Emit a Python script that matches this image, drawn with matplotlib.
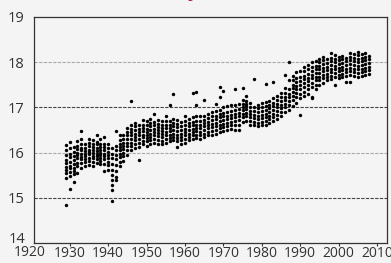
import matplotlib
matplotlib.use("Agg")
from matplotlib import pyplot as plt

# readings per year, grouped by decade
temps_1920s = [
	[14.84, 15.43, 15.55, 15.62, 15.68, 15.78, 15.83, 15.95, 16.05, 16.17],  # 1929
]
temps_1930s = [
	[15.19, 15.48, 15.56, 15.65, 15.7, 15.8, 15.9, 15.98, 16.1, 16.23],
	[15.36, 15.52, 15.6, 15.66, 15.75, 15.83, 15.92, 16.02, 16.12],
	[15.55, 15.7, 15.78, 15.88, 15.95, 16.0, 16.08, 16.15, 16.25],
	[15.65, 15.76, 15.85, 15.9, 15.98, 16.05, 16.1, 16.2, 16.3, 16.48],
	[15.7, 15.8, 15.86, 15.92, 15.97, 16.04, 16.1, 16.18],
	[15.72, 15.82, 15.88, 15.96, 16.02, 16.06, 16.14, 16.22, 16.3],
	[15.7, 15.8, 15.88, 15.93, 16.0, 16.06, 16.12, 16.2, 16.28],
	[15.78, 15.85, 15.92, 15.98, 16.04, 16.1, 16.18, 16.24, 16.39],
	[15.75, 15.82, 15.88, 15.95, 16.0, 16.06, 16.12, 16.2, 16.3],
	[15.6, 15.75, 15.85, 15.92, 15.98, 16.05, 16.12, 16.2, 16.35],
]
temps_1940s = [
	[15.62, 15.72, 15.8, 15.88, 15.95, 16.02, 16.1, 16.18],
	[14.93, 15.17, 15.28, 15.4, 15.5, 15.62, 15.75, 15.88, 15.98, 16.1],
	[15.4, 15.47, 15.6, 15.72, 15.85, 15.95, 16.05, 16.15, 16.48],
	[15.7, 15.8, 15.9, 15.98, 16.05, 16.12, 16.2, 16.28, 16.39],
	[15.82, 15.92, 16.0, 16.08, 16.15, 16.22, 16.3, 16.38],
	[15.95, 16.05, 16.15, 16.22, 16.3, 16.38, 16.45, 16.55],
	[16.05, 16.15, 16.22, 16.3, 16.38, 16.45, 16.52, 16.6, 17.14],
	[16.1, 16.2, 16.28, 16.35, 16.42, 16.5, 16.58, 16.65],
	[15.84, 16.12, 16.22, 16.3, 16.38, 16.45, 16.52, 16.62],
	[16.18, 16.26, 16.34, 16.4, 16.48, 16.55, 16.62, 16.72],
]
temps_1950s = [
	[16.15, 16.25, 16.32, 16.4, 16.46, 16.52, 16.6, 16.7],
	[16.2, 16.28, 16.35, 16.42, 16.5, 16.58, 16.66, 16.75],
	[16.22, 16.3, 16.38, 16.45, 16.52, 16.6, 16.68, 16.85],
	[16.2, 16.28, 16.36, 16.44, 16.5, 16.56, 16.64, 16.72],
	[16.18, 16.26, 16.34, 16.42, 16.48, 16.55, 16.62, 16.7],
	[16.22, 16.3, 16.38, 16.46, 16.54, 16.62, 16.7, 16.8],
	[16.25, 16.32, 16.4, 16.48, 16.55, 16.62, 16.7, 17.05],
	[16.28, 16.35, 16.42, 16.5, 16.58, 16.66, 16.75, 17.3],
	[16.12, 16.25, 16.32, 16.4, 16.48, 16.56, 16.64, 16.72],
	[16.2, 16.28, 16.35, 16.42, 16.5, 16.58, 16.68],
]
temps_1960s = [
	[16.22, 16.3, 16.38, 16.45, 16.52, 16.6, 16.7, 16.8],
	[16.28, 16.35, 16.42, 16.5, 16.58, 16.66, 16.75],
	[16.3, 16.38, 16.45, 16.52, 16.6, 16.68, 16.78, 17.32],
	[16.32, 16.4, 16.48, 16.55, 16.62, 16.7, 16.8, 17.05, 17.34],
	[16.3, 16.38, 16.46, 16.54, 16.62, 16.7, 16.8],
	[16.35, 16.42, 16.5, 16.58, 16.65, 16.72, 16.82, 17.16],
	[16.38, 16.46, 16.54, 16.6, 16.68, 16.76, 16.85],
	[16.4, 16.48, 16.56, 16.64, 16.72, 16.8, 16.9],
	[16.42, 16.5, 16.58, 16.66, 16.74, 16.82, 16.92, 17.08],
	[16.45, 16.55, 16.62, 16.7, 16.78, 16.86, 16.95, 17.22, 17.46],
]
temps_1970s = [
	[16.48, 16.56, 16.64, 16.72, 16.8, 16.88, 17.0, 17.37],
	[16.5, 16.58, 16.66, 16.74, 16.82, 16.9, 17.02],
	[16.52, 16.6, 16.68, 16.76, 16.84, 16.92, 17.05],
	[16.5, 16.6, 16.7, 16.78, 16.86, 16.95, 17.05, 17.4],
	[16.5, 16.62, 16.72, 16.8, 16.88, 16.96, 17.08],
	[16.68, 16.78, 16.86, 16.94, 17.0, 17.08, 17.16, 17.44],
	[16.7, 16.8, 16.88, 16.96, 17.02, 17.08, 17.15, 17.25],
	[16.61, 16.7, 16.78, 16.85, 16.92, 17.0, 17.1],
	[16.6, 16.68, 16.76, 16.84, 16.92, 17.0, 17.62],
	[16.58, 16.66, 16.74, 16.82, 16.9, 16.98, 17.05],
]
temps_1980s = [
	[16.6, 16.68, 16.76, 16.84, 16.92, 17.0, 17.1],
	[16.61, 16.7, 16.78, 16.86, 16.94, 17.02, 17.12, 17.51],
	[16.65, 16.74, 16.82, 16.9, 16.98, 17.06, 17.15],
	[16.7, 16.78, 16.86, 16.94, 17.02, 17.1, 17.2, 17.57],
	[16.75, 16.84, 16.92, 17.0, 17.08, 17.16, 17.26],
	[16.8, 16.9, 16.98, 17.06, 17.14, 17.22, 17.32],
	[16.9, 17.0, 17.08, 17.16, 17.24, 17.32, 17.42, 17.72],
	[16.95, 17.05, 17.14, 17.22, 17.3, 17.4, 17.6, 18.0],
	[17.02, 17.16, 17.25, 17.34, 17.42, 17.5, 17.6, 17.7],
	[17.1, 17.22, 17.32, 17.4, 17.48, 17.56, 17.66, 17.78],
]
temps_1990s = [
	[16.83, 17.2, 17.3, 17.4, 17.5, 17.58, 17.68, 17.8],
	[17.25, 17.35, 17.45, 17.54, 17.62, 17.7, 17.8, 17.9],
	[17.3, 17.4, 17.5, 17.58, 17.66, 17.74, 17.84, 17.94],
	[17.2, 17.24, 17.45, 17.55, 17.64, 17.72, 17.8, 17.9, 18.0],
	[17.4, 17.5, 17.6, 17.68, 17.76, 17.84, 17.92, 18.02],
	[17.5, 17.6, 17.68, 17.76, 17.84, 17.92, 18.0, 18.08],
	[17.55, 17.65, 17.72, 17.8, 17.88, 17.96, 18.04, 18.12],
	[17.6, 17.68, 17.75, 17.82, 17.9, 17.98, 18.06],
	[17.62, 17.7, 17.78, 17.86, 17.94, 18.02, 18.1, 18.2],
	[17.5, 17.68, 17.76, 17.84, 17.92, 18.0, 18.08, 18.16],
]
temps_2000s = [
	[17.65, 17.72, 17.8, 17.88, 17.96, 18.04, 18.12],
	[17.68, 17.75, 17.82, 17.9, 17.98, 18.06, 18.14],
	[17.57, 17.7, 17.78, 17.86, 17.94, 18.02, 18.1],
	[17.57, 17.72, 17.8, 17.88, 17.96, 18.04, 18.12, 18.2],
	[17.7, 17.78, 17.86, 17.94, 18.02, 18.1, 18.18],
	[17.68, 17.76, 17.84, 17.92, 18.0, 18.08, 18.16, 18.22],
	[17.7, 17.78, 17.86, 17.94, 18.02, 18.1, 18.18],
	[17.72, 17.8, 17.88, 17.96, 18.04, 18.12, 18.2],
	[17.75, 17.82, 17.9, 17.98, 18.06, 18.14],
]
first_year = 1929
yticks = [14, 15, 16, 17, 18, 19]
xticks = [1930, 1940, 1950, 1960, 1970, 1980, 1990, 2000, 2010]

plt.rcParams['font.family'] = ['Open Sans', 'DejaVu Sans']
bg = "#f4f4f4"
ink = "#333333"

fig = plt.figure(figsize=(3.91, 2.63), dpi=100, facecolor=bg)
ax = fig.add_axes([34 / 391, 20 / 263, 353 / 391, 226 / 263], facecolor=bg)

all_years = temps_1920s + temps_1930s + temps_1940s + temps_1950s + temps_1960s + temps_1970s + temps_1980s + temps_1990s + temps_2000s
xs = []
ys = []
for i, vals in enumerate(all_years):
	for v in vals:
		xs.append(first_year + i)
		ys.append(v)

# reference lines, alternating light / dark
for y in [15, 16, 17, 18]:
	col = "#444444" if y % 2 == 1 else "#aaaaaa"
	ax.axhline(y, color=col, lw=0.8, linestyle=(0, (3, 1.2)), zorder=1)

ax.scatter(xs, ys, s=6, color="black", linewidths=0, zorder=3)

ax.set_xlim(1920.7, 2012.6)
ax.set_ylim(14, 19)
ax.set_xticks(xticks)
ax.set_yticks(yticks)
# bottom label "14" sits on the axis line instead of centred on it
ax.set_yticklabels([""] + [str(t) for t in yticks[1:]])
ax.text(-0.025, yticks[0], str(yticks[0]), transform=ax.get_yaxis_transform(), ha="right",
	va="baseline", fontsize=10.5, color=ink, clip_on=False)
ax.tick_params(axis="x", length=2.5, width=0.8, color=ink, labelsize=10, labelcolor=ink, pad=0)
ax.tick_params(axis="y", length=0, labelsize=10.5, labelcolor=ink, pad=7)
# 1920 label sits left of the axes, no tick
ax.text(1919.6, -0.008, "1920", transform=ax.get_xaxis_transform(), ha="center", va="top",
	fontsize=10, color=ink, clip_on=False)
for s in ax.spines.values():
	s.set_color(ink)
	s.set_linewidth(0.9)

# title is cut off above the picture, only the tail of a "y" shows
fig.text(193 / 391, 1.016, "y", ha="center", va="baseline", fontsize=14,
	fontweight="bold", color="#b01030")

fig.savefig("out.png", dpi=100, facecolor=bg)
